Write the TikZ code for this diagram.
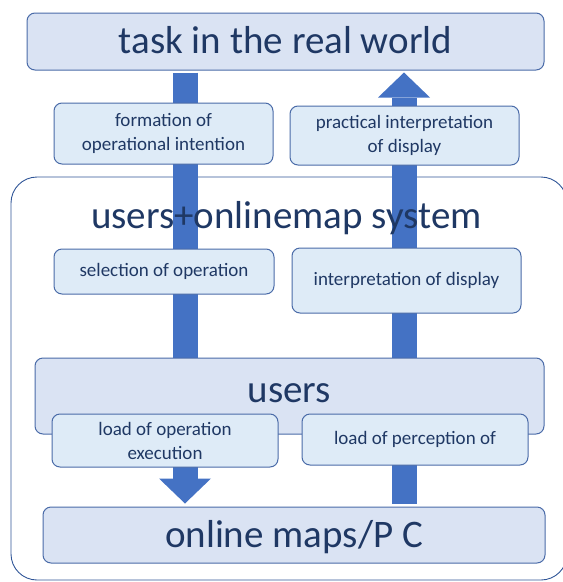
\documentclass[tikz,border=0pt]{standalone}
\usepackage{fontspec}
\setmainfont{Carlito}
\usetikzlibrary{arrows.meta}
\definecolor{bigfill}{HTML}{DAE3F3}
\definecolor{smallfill}{HTML}{DEEBF7}
\definecolor{edgeblue}{HTML}{4A6BA8}
\definecolor{navy}{HTML}{1F3864}
\definecolor{arrowblue}{HTML}{4472C4}
\definecolor{outeredge}{HTML}{2F5597}
\tikzset{
  bigbox/.style={draw=edgeblue, fill=bigfill, line width=1pt, rounded corners=8pt, inner sep=0pt},
  smallbox/.style={draw=edgeblue, fill=smallfill, line width=1pt, rounded corners=8pt, inner sep=0pt,
    text=navy, font=\fontsize{19}{24}\selectfont, align=center},
  bigtext/.style={text=navy, font=\fontsize{39}{46}\selectfont, inner sep=0pt, anchor=base},
  blockarrow/.style={arrowblue, line width=25pt,
    -{Triangle[length=25pt, width=52pt, line width=0pt]}},
  outerbox/.style={draw=outeredge, line width=0.9pt, rounded corners=26pt}
}
\begin{document}
\begin{tikzpicture}[x=1pt, y=-1pt]
\useasboundingbox (0,0) rectangle (563,582);
\clip (0,0) rectangle (563,582);
% outer system frame
\draw[outerbox] (11,177) rectangle (567,580);
% boxes that arrows start/end at
\node[bigbox, minimum width=517pt, minimum height=57pt] (task) at (285.5,41.5) {};
\node[bigbox, minimum width=502pt, minimum height=56pt] (online) at (294,535) {};
\coordinate (lx) at (185,0);
\coordinate (rx) at (404,0);
% block arrows
\draw[blockarrow, shorten <=2pt, shorten >=3pt] (task.south -| lx) -- (online.north -| lx);
\draw[blockarrow, shorten <=3pt, shorten >=2pt] (online.north -| rx) -- (task.south -| rx);
% title of system
\node[bigtext] (systitle) at (286.5,228) {users+onlinemap system};
% small boxes
\node[smallbox, minimum width=219pt, minimum height=61pt] (formation) at (163.5,133.5) {formation of\\operational intention};
\node[smallbox, minimum width=229pt, minimum height=59pt] (practical) at (404.5,135.5) {practical interpretation\\of display};
\node[smallbox, minimum width=220pt, minimum height=45pt] (selection) at (164,271.5) {selection of operation};
\node[smallbox, minimum width=229pt, minimum height=65pt] (interp) at (406.5,280.5) {interpretation of display};
% users box
\node[bigbox, minimum width=509pt, minimum height=76pt] (users) at (289.5,396) {};
\node[smallbox, minimum width=226pt, minimum height=53pt] (loadop) at (165,440.5) {load of operation\\execution};
\node[smallbox, minimum width=226pt, minimum height=51pt] (loadper) at (415,439.5) {load of perception of};
% big texts
\node[bigtext] (tasktext) at (285.5,53) {task in the real world};
\node[bigtext] (userstext) at (289.5,402) {users};
\node[bigtext] (onlinetext) at (294,547) {online maps/P C};
\end{tikzpicture}
\end{document}
